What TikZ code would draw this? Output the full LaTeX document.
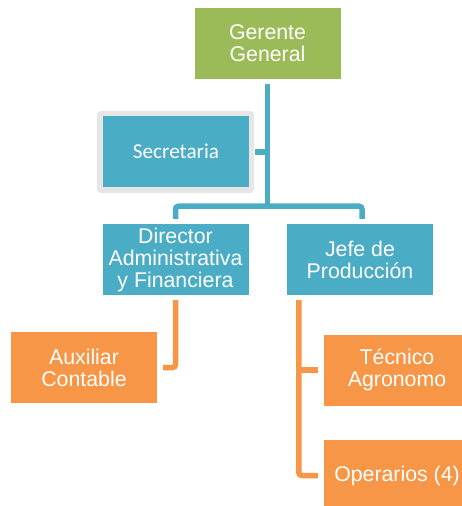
\documentclass[tikz,border=0pt]{standalone}
\usepackage{fontspec}
\setmainfont{Liberation Sans}
\newfontfamily\calib{Carlito}
\usetikzlibrary{calc}
\definecolor{cgreen}{HTML}{9BBB59}
\definecolor{cblue}{HTML}{4BACC6}
\definecolor{corange}{HTML}{F79646}
\definecolor{cframe}{HTML}{E6E6E6}
\tikzset{
  box/.style={minimum width=146pt, minimum height=71pt, inner sep=0pt, text=white, align=center,
    font=\fontsize{21.3}{22}\selectfont},
  gbox/.style={box, fill=cgreen},
  bbox/.style={box, fill=cblue},
  obox/.style={box, fill=corange},
  bl/.style={draw=cblue, line width=5.5pt},
  ol/.style={draw=corange, line width=5.5pt},
}
\begin{document}
\begin{tikzpicture}[x=1pt,y=-1pt]
\useasboundingbox (0,0) rectangle (462,506);
\begin{scope}
\clip (0,0) rectangle (462,506);
\node[gbox] (G) at (267.5,43.5) {Gerente\\General};
\node[fill=cframe, rounded corners=4pt, minimum width=157pt, minimum height=82pt, inner sep=0pt] (F) at (175.5,152) {};
\node[bbox, font=\calib\fontsize{21.2}{22}\selectfont] (S) at (176,151.5) {Secretaria};
\node[bbox] (D) at (175.5,259.5) {Director\\Administrativa\\y Financiera};
\node[bbox] (J) at (360,259.5) {Jefe de\\Producción};
\node[obox] (A) at (84,367.5) {Auxiliar\\Contable};
\node[obox] (T) at (397,370) {Técnico\\Agronomo};
\node[obox] (O) at (397,475.5) {Operarios (4)};

\coordinate (bar) at ($(G.south)+(0,127)$);
\draw[bl] ($(G.south)+(0,5)$) -- (bar);
\draw[bl] ($(F.east)+(1,0)$) -- (G.south |- F.east);
\draw[bl, rounded corners=3pt] ($(D.north)+(0,-5)$) |- (bar) -| ($(J.north)+(2,-5)$);

\draw[ol, rounded corners=3pt] ($(D.south)+(0,5)$) |- ($(A.east)+(6,0)$);
\coordinate (jl) at ($(J.south west)+(12,5)$);
\draw[ol, rounded corners=3pt] (jl) |- ($(O.west)+(-6,0)$);
\draw[ol] (jl |- T.west) -- ($(T.west)+(-6,0)$);
\end{scope}
\end{tikzpicture}
\end{document}
